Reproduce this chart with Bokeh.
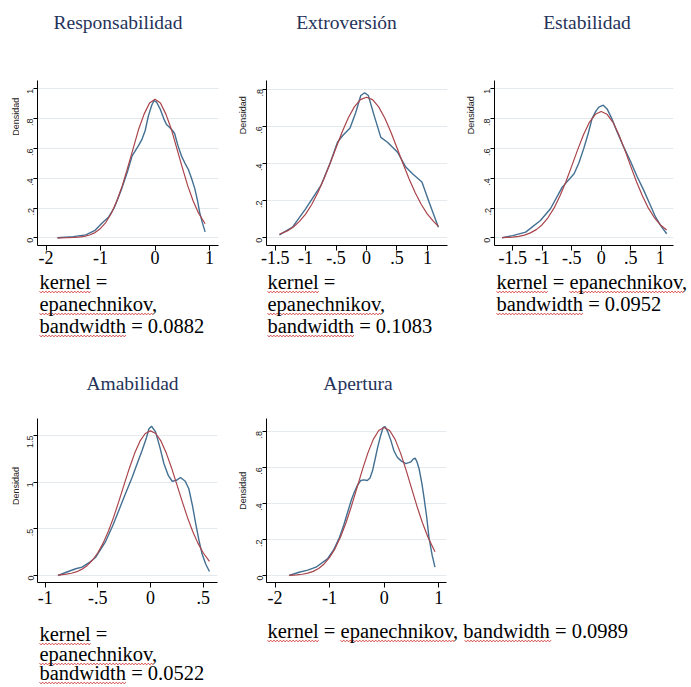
from math import pi
import numpy as np
from bokeh.plotting import figure
from bokeh.models import Range1d, FixedTicker, Label
from bokeh.layouts import column, row
from bokeh.embed import file_html
from bokeh.resources import INLINE

# ---------------- data ----------------
titles = ["Responsabilidad", "Extroversión", "Estabilidad", "Amabilidad", "Apertura"]
bandwidths = ["0.0882", "0.1083", "0.0952", "0.0522", "0.0989"]

# kernel density estimates (blue)
resp_kde_x = [-1.79, -1.5, -1.27, -1.1, -0.97, -0.85, -0.75, -0.61, -0.5, -0.42, -0.3, -0.24, -0.18, -0.12, -0.06,
              -0.02, 0.03, 0.1, 0.16, 0.21, 0.27, 0.32, 0.36, 0.42, 0.485, 0.55, 0.61, 0.67, 0.73, 0.78, 0.82, 0.87, 0.92]
resp_kde_y = [0.0, 0.008, 0.02, 0.05, 0.10, 0.14, 0.20, 0.33, 0.45, 0.55, 0.62, 0.66, 0.72, 0.82, 0.89,
              0.92, 0.91, 0.86, 0.80, 0.76, 0.74, 0.72, 0.70, 0.62, 0.55, 0.50, 0.46, 0.40, 0.33, 0.25, 0.17, 0.10, 0.04]
extr_kde_x = [-1.43, -1.215, -1.0, -0.75, -0.6, -0.476, -0.39, -0.27, -0.175, -0.094, -0.03, 0.03, 0.126, 0.235,
              0.345, 0.51, 0.645, 0.755, 0.91, 1.03, 1.18]
extr_kde_y = [0.016, 0.057, 0.156, 0.28, 0.40, 0.514, 0.55, 0.59, 0.675, 0.765, 0.78, 0.765, 0.657, 0.54,
              0.514, 0.46, 0.38, 0.344, 0.30, 0.19, 0.057]
esta_kde_x = [-1.68, -1.5, -1.28, -1.03, -0.86, -0.66, -0.46, -0.38, -0.295, -0.22, -0.155, -0.09, -0.04, 0.035,
              0.10, 0.18, 0.27, 0.38, 0.5, 0.61, 0.72, 0.82, 0.92, 1.02, 1.11]
esta_kde_y = [0.0, 0.015, 0.038, 0.116, 0.195, 0.34, 0.43, 0.50, 0.60, 0.70, 0.80, 0.85, 0.877, 0.89,
              0.865, 0.80, 0.71, 0.61, 0.51, 0.41, 0.32, 0.23, 0.14, 0.075, 0.027]
amab_kde_x = [-0.877, -0.8, -0.71, -0.65, -0.58, -0.52, -0.43, -0.36, -0.30, -0.24, -0.175, -0.12, -0.08, -0.04,
              -0.016, 0.01, 0.048, 0.09, 0.127, 0.17, 0.206, 0.245, 0.285, 0.33, 0.364, 0.40, 0.43, 0.46, 0.49,
              0.525, 0.56]
amab_kde_y = [0.0, 0.035, 0.072, 0.09, 0.14, 0.196, 0.357, 0.53, 0.70, 0.87, 1.05, 1.22, 1.34, 1.47,
              1.57, 1.60, 1.54, 1.37, 1.20, 1.07, 1.01, 1.02, 1.05, 1.01, 0.93, 0.74, 0.55, 0.38, 0.23,
              0.12, 0.043]
aper_kde_x = [-1.74, -1.56, -1.4, -1.25, -1.04, -0.93, -0.82, -0.74, -0.67, -0.6, -0.55, -0.49, -0.43, -0.37,
              -0.31, -0.26, -0.214, -0.17, -0.12, -0.07, -0.02, 0.016, 0.06, 0.12, 0.18, 0.24, 0.31, 0.395,
              0.45, 0.49, 0.53, 0.567, 0.6, 0.64, 0.69, 0.73, 0.78, 0.82, 0.88, 0.93]
aper_kde_y = [0.0, 0.018, 0.03, 0.046, 0.092, 0.14, 0.21, 0.28, 0.35, 0.42, 0.46, 0.50, 0.526, 0.53,
              0.526, 0.54, 0.58, 0.64, 0.71, 0.77, 0.82, 0.825, 0.80, 0.75, 0.69, 0.655, 0.635, 0.62,
              0.625, 0.63, 0.645, 0.65, 0.63, 0.59, 0.51, 0.43, 0.32, 0.21, 0.11, 0.046]

# normal density overlays (red)
resp_norm_x = [-1.79, -1.6, -1.5, -1.4, -1.3, -1.2, -1.1, -1.0, -0.9, -0.8, -0.7, -0.6, -0.5, -0.4, -0.3, -0.2,
               -0.1, 0.0, 0.1, 0.2, 0.3, 0.4, 0.5, 0.6, 0.7, 0.8, 0.92]
resp_norm_y = [0.0, 0.001, 0.002, 0.005, 0.010, 0.019, 0.035, 0.063, 0.104, 0.165, 0.247, 0.35, 0.473, 0.60,
               0.729, 0.83, 0.905, 0.93, 0.905, 0.83, 0.729, 0.60, 0.473, 0.35, 0.247, 0.165, 0.094]
extr_norm_x = [-1.43, -1.3, -1.2, -1.1, -1.0, -0.9, -0.8, -0.7, -0.6, -0.5, -0.4, -0.3, -0.2, -0.1, 0.0,
               0.1, 0.2, 0.3, 0.4, 0.5, 0.6, 0.7, 0.8, 0.9, 1.0, 1.1, 1.18]
extr_norm_y = [0.019, 0.037, 0.058, 0.088, 0.127, 0.179, 0.242, 0.316, 0.398, 0.484, 0.569, 0.644, 0.704, 0.743,
               0.756, 0.743, 0.704, 0.644, 0.569, 0.484, 0.398, 0.316, 0.242, 0.179, 0.127, 0.088, 0.062]
esta_norm_x = [-1.68, -1.6, -1.5, -1.4, -1.3, -1.2, -1.1, -1.0, -0.9, -0.8, -0.7, -0.6, -0.5, -0.4, -0.3, -0.2,
               -0.1, 0.0, 0.1, 0.2, 0.3, 0.4, 0.5, 0.6, 0.7, 0.8, 0.9, 1.0, 1.11]
esta_norm_y = [0.001, 0.003, 0.005, 0.010, 0.018, 0.033, 0.055, 0.088, 0.136, 0.199, 0.280, 0.375, 0.481, 0.590,
               0.692, 0.775, 0.829, 0.848, 0.829, 0.775, 0.692, 0.590, 0.481, 0.375, 0.280, 0.199, 0.136,
               0.088, 0.052]
amab_norm_x = [-0.88, -0.8, -0.75, -0.7, -0.65, -0.6, -0.55, -0.5, -0.45, -0.4, -0.35, -0.3, -0.25, -0.2, -0.15,
               -0.1, -0.05, 0.0, 0.05, 0.1, 0.15, 0.2, 0.25, 0.3, 0.35, 0.4, 0.45, 0.5, 0.56]
amab_norm_y = [0.005, 0.014, 0.024, 0.041, 0.068, 0.108, 0.166, 0.244, 0.347, 0.475, 0.626, 0.797, 0.976, 1.153,
               1.312, 1.440, 1.522, 1.550, 1.522, 1.440, 1.312, 1.153, 0.976, 0.797, 0.626, 0.475, 0.347,
               0.244, 0.152]
aper_norm_x = [-1.74, -1.6, -1.5, -1.4, -1.3, -1.2, -1.1, -1.0, -0.9, -0.8, -0.7, -0.6, -0.5, -0.4, -0.3, -0.2,
               -0.1, 0.0, 0.1, 0.2, 0.3, 0.4, 0.5, 0.6, 0.7, 0.8, 0.93]
aper_norm_y = [0.001, 0.004, 0.007, 0.013, 0.023, 0.039, 0.064, 0.100, 0.149, 0.213, 0.292, 0.384, 0.484, 0.585,
               0.678, 0.754, 0.803, 0.820, 0.803, 0.754, 0.678, 0.585, 0.484, 0.384, 0.292, 0.213, 0.132]

# axis ticks
resp_xticks = [-2, -1, 0, 1]
extr_xticks = [-1.5, -1, -0.5, 0, 0.5, 1]
esta_xticks = [-1.5, -1, -0.5, 0, 0.5, 1]
amab_xticks = [-1, -0.5, 0, 0.5]
aper_xticks = [-2, -1, 0, 1]
resp_yticks = [0, 0.2, 0.4, 0.6, 0.8, 1]
extr_yticks = [0, 0.2, 0.4, 0.6, 0.8]
esta_yticks = [0, 0.2, 0.4, 0.6, 0.8, 1]
amab_yticks = [0, 0.5, 1, 1.5]
aper_yticks = [0, 0.2, 0.4, 0.6, 0.8]

# ---------------- styling / layout ----------------
BLUE = "#426f92"
RED = "#aa444b"
TITLE_COLOR = "#25335a"
SERIF = "Liberation Serif"
SANS = "Liberation Sans"
NOTE_PX = 20.5
TITLE_PX = 19.5
W = 691


def stata_label(v):
    s = ("%g" % v)
    if s.startswith("0."):
        s = s[1:]
    elif s.startswith("-0."):
        s = "-" + s[2:]
    return s


def make_panel(kx, ky, nx, ny, xticks, yticks, g):
    figL, figR, figT, figB = g["fig"]
    fl, fr, ft, fb = g["frame"]

    def dx(px):
        return (px - g["x0"]) / g["xppu"]

    def dy(py):
        return (g["y0"] - py) / g["yppu"]

    p = figure(width=figR - figL, height=figB - figT,
               x_range=Range1d(dx(fl), dx(fr)), y_range=Range1d(dy(fb), dy(ft)),
               output_backend="svg", toolbar_location=None,
               min_border_left=fl - figL, min_border_right=figR - fr,
               min_border_top=ft - figT, min_border_bottom=figB - fb)
    p.outline_line_color = None
    p.xgrid.visible = False
    p.ygrid.grid_line_color = "#e3e9ec"
    p.ygrid.grid_line_width = 1

    xa = p.xaxis[0]
    xa.ticker = FixedTicker(ticks=xticks)
    xa.major_label_overrides = {t: stata_label(t) for t in xticks}
    xa.major_label_text_font = SERIF
    xa.major_label_text_font_size = "18px"
    xa.major_label_text_color = "black"
    xa.major_label_standoff = g["xstand"]
    xa.major_tick_out = 5
    xa.major_tick_in = 0
    xa.minor_tick_out = 0
    xa.minor_tick_in = 0
    xa.axis_line_color = "black"
    xa.major_tick_line_color = "black"

    ya = p.yaxis[0]
    ya.ticker = FixedTicker(ticks=yticks)
    ya.major_label_overrides = {t: stata_label(t) for t in yticks}
    ya.major_label_orientation = pi / 2
    ya.major_label_text_font = SANS
    ya.major_label_text_font_size = "9px"
    ya.major_label_text_color = "#222222"
    ya.major_label_standoff = 3
    ya.major_tick_out = 4
    ya.major_tick_in = 0
    ya.minor_tick_out = 0
    ya.minor_tick_in = 0
    ya.axis_line_color = "black"
    ya.major_tick_line_color = "black"

    p.line(kx, ky, line_color=BLUE, line_width=1.4)
    p.line(nx, ny, line_color=RED, line_width=1.2)
    return p


def text_strip(left, right, top, bottom):
    """A strip of the page whose coordinates are the picture's own pixels."""
    p = figure(width=right - left, height=bottom - top, x_range=Range1d(left, right),
               y_range=Range1d(bottom, top),
               output_backend="svg", toolbar_location=None, min_border=0,
               min_border_left=0, min_border_right=0, min_border_top=0, min_border_bottom=0,
               x_axis_location=None, y_axis_location=None)
    p.outline_line_color = None
    p.xgrid.visible = False
    p.ygrid.visible = False
    return p


def add_text(p, x, baseline, text, px, font, color, align="left"):
    # text is anchored at its middle; the middle sits about 0.34 em above the baseline
    p.add_layout(Label(x=x, y=baseline - 0.34 * px, text=text, text_align=align, text_baseline="middle",
                       text_font=font, text_font_size="%.1fpx" % px, text_color=color))


def add_title(p, text, cx, baseline):
    add_text(p, cx, baseline, text, TITLE_PX, SERIF, TITLE_COLOR, align="center")


def dens_strip(left, right, top, bottom, cx, cy):
    s = text_strip(left, right, top, bottom)
    s.add_layout(Label(x=cx, y=cy, text="Densidad", angle=pi / 2, text_align="center",
                       text_baseline="middle", text_font=SANS, text_font_size="9px",
                       text_color="#222222"))
    return s


# em widths of Liberation Serif (Times metrics) for underline lengths
EM = {"kernel": 2.499, "kernel = ": 3.563, "epanechnikov": 5.554,
      "kernel = epanechnikov, ": 9.617, "bandwidth": 4.222}


def squiggle(p, x_start, width, baseline):
    xs = list(np.arange(x_start, x_start + width, 1.6))
    ys = [baseline + (2.6 if i % 2 == 0 else 4.4) for i in range(len(xs))]
    p.line(xs, ys, line_color="#d23c3c", line_width=0.9)


def add_note(p, x, baselines, lines):
    for ln, b in zip(lines, baselines):
        add_text(p, x, b, ln, NOTE_PX, SERIF, "black")
        # Word's spell-check marks under the Stata words
        if ln.startswith("kernel"):
            squiggle(p, x, EM["kernel"] * NOTE_PX, b)
        if ln.startswith("epanechnikov"):
            squiggle(p, x, EM["epanechnikov"] * NOTE_PX, b)
        elif "epanechnikov" in ln:
            squiggle(p, x + EM["kernel = "] * NOTE_PX, EM["epanechnikov"] * NOTE_PX, b)
        if ln.startswith("bandwidth"):
            squiggle(p, x, EM["bandwidth"] * NOTE_PX, b)
        elif "bandwidth" in ln:
            squiggle(p, x + EM["kernel = epanechnikov, "] * NOTE_PX, EM["bandwidth"] * NOTE_PX, b)


geoms = [
    dict(fig=(19, 237, 72, 272), frame=(37, 218, 80, 245), x0=154.5, xppu=54.5, y0=237.3, yppu=149, xstand=0),
    dict(fig=(248, 462, 72, 272), frame=(266, 447, 80, 245), x0=366, xppu=60.9, y0=237.3, yppu=186, xstand=0),
    dict(fig=(476, 691, 72, 272), frame=(494, 673, 80, 245), x0=600.7, xppu=59, y0=237.3, yppu=149, xstand=0),
    dict(fig=(19, 237, 410, 612), frame=(37, 217, 418, 582), x0=150, xppu=105.3, y0=575, yppu=93.3, xstand=3),
    dict(fig=(248, 691, 410, 612), frame=(266, 446, 418, 582), x0=383.7, xppu=54.6, y0=575, yppu=180.5, xstand=3),
]

series = [
    (resp_kde_x, resp_kde_y, resp_norm_x, resp_norm_y, resp_xticks, resp_yticks),
    (extr_kde_x, extr_kde_y, extr_norm_x, extr_norm_y, extr_xticks, extr_yticks),
    (esta_kde_x, esta_kde_y, esta_norm_x, esta_norm_y, esta_xticks, esta_yticks),
    (amab_kde_x, amab_kde_y, amab_norm_x, amab_norm_y, amab_xticks, amab_yticks),
    (aper_kde_x, aper_kde_y, aper_norm_x, aper_norm_y, aper_xticks, aper_yticks),
]

figs = [make_panel(*series[i], geoms[i]) for i in range(5)]

# "Densidad" labels, in strips left of each panel
d1 = dens_strip(0, 19, 72, 272, 15, 116)
d2 = dens_strip(237, 248, 72, 272, 242, 114)
d3 = dens_strip(462, 476, 72, 272, 470, 114)
d4 = dens_strip(0, 19, 410, 612, 15, 493)
d5 = dens_strip(237, 248, 410, 612, 242, 499)

# titles and notes, top row
head1 = text_strip(0, W, 0, 72)
add_title(head1, titles[0], 117.5, 29)
add_title(head1, titles[1], 346, 29)
add_title(head1, titles[2], 586.5, 29)

note1 = text_strip(0, W, 272, 344)
add_note(note1, 39, [288, 310, 332], ["kernel =", "epanechnikov,", "bandwidth = " + bandwidths[0]])
add_note(note1, 267, [288, 310, 332], ["kernel =", "epanechnikov,", "bandwidth = " + bandwidths[1]])
add_note(note1, 496, [288, 310], ["kernel = epanechnikov,", "bandwidth = " + bandwidths[2]])

# titles and notes, bottom row
head2 = text_strip(0, W, 344, 410)
add_title(head2, titles[3], 132, 390)
add_title(head2, titles[4], 357.5, 390)

note2 = text_strip(0, W, 612, 687)
add_note(note2, 39, [640, 660, 679], ["kernel =", "epanechnikov,", "bandwidth = " + bandwidths[3]])
add_note(note2, 267, [637], ["kernel = epanechnikov, bandwidth = " + bandwidths[4]])

layout = column(head1, row(d1, figs[0], d2, figs[1], d3, figs[2]), note1,
                head2, row(d4, figs[3], d5, figs[4]), note2)

open("out.html", "w").write(file_html(layout, INLINE))
